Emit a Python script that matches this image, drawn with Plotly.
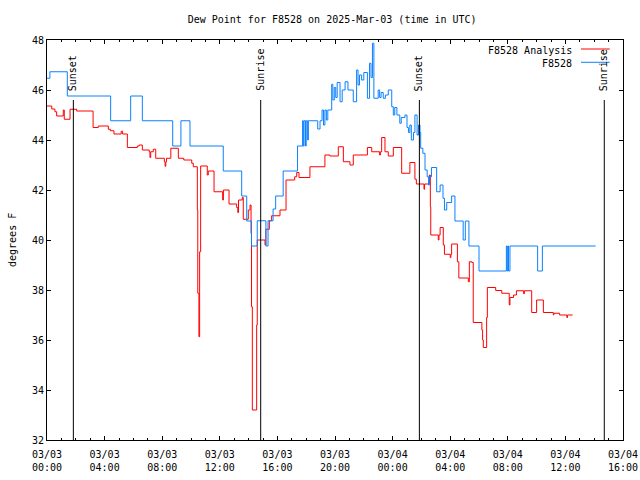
import pandas as pd
import plotly.graph_objects as go

BASE = pd.Timestamp("2025-03-03 00:00")

# F8528 (observed) dew point: hours since 2025-03-03 00:00 UTC, degrees F
obs_hours = [0.0, 0.2, 1.41, 4.42, 5.81, 6.62, 8.73, 9.3, 9.93, 12.24, 13.52, 13.87,
             14.2, 14.6, 15.2, 15.35, 15.7, 15.88, 16.4, 17.4, 17.75, 17.8, 17.85, 17.95,
             18.0, 18.1, 18.15, 18.8, 18.96, 19.1, 19.2, 19.3, 19.4, 19.5, 19.77, 19.85,
             19.95, 20.05, 20.15, 20.35, 20.5, 20.7, 20.9, 21.27, 21.5, 21.6, 21.7, 21.85,
             22.0, 22.25, 22.4, 22.5, 22.6, 22.7, 23.0, 23.1, 23.2, 23.35, 23.5, 23.7,
             23.94, 24.05, 24.15, 24.3, 24.5, 24.6, 24.86, 25.0, 25.1, 25.2, 25.3, 25.45,
             25.55, 25.7, 25.8, 25.9, 25.95, 26.1, 26.25, 26.4, 26.5, 26.55, 26.7, 27.06,
             27.3, 27.5, 27.6, 27.76, 28.1, 28.33, 28.9, 29.05, 29.3, 30.0, 31.9, 31.95,
             32.0, 32.05, 32.15, 34.07, 34.4, 38.1]
obs_values = [46.47, 46.73, 45.76, 44.77, 45.76, 44.77, 43.76, 44.77, 43.76, 42.76, 41.76, 40.76,
              39.76, 40.77, 39.76, 40.77, 41.24, 41.76, 42.76, 43.76, 44.77, 43.76, 44.77, 43.76,
              44.77, 44.0, 44.77, 44.44, 44.77, 45.2, 44.6, 45.2, 44.8, 45.2, 46.23, 45.6,
              46.1, 45.7, 46.3, 45.53, 46.0, 46.33, 46.0, 45.53, 46.8, 46.2, 46.6, 46.4,
              46.7, 45.67, 47.07, 46.5, 47.87, 45.67, 46.0, 45.7, 45.9, 45.67, 45.8, 46.0,
              45.33, 45.0, 45.3, 45.0, 44.67, 44.9, 45.0, 44.5, 44.3, 44.6, 44.0, 44.3,
              45.0, 44.2, 44.6, 44.3, 43.67, 43.47, 42.8, 42.53, 42.2, 42.53, 42.9, 41.93,
              42.2, 41.67, 41.2, 41.5, 41.76, 40.76, 40.0, 40.76, 39.76, 38.76, 39.76, 38.76,
              39.76, 38.76, 39.76, 38.76, 39.76, 39.76]

# F8528 Analysis dew point
ana_hours = [0.0, 0.33, 0.55, 0.67, 1.13, 1.2, 1.6, 2.06, 3.2, 3.56, 4.26, 4.4, 4.65,
             5.15, 5.25, 5.58, 6.27, 6.4, 6.62, 7.1, 7.15, 7.2, 7.38, 7.55, 8.15, 8.2,
             8.25, 8.3, 8.6, 9.12, 9.5, 10.05, 10.16, 10.44, 10.47, 10.55, 10.6, 10.67,
             11.13, 11.2, 11.6, 12.2, 12.25, 12.64, 13.17, 13.25, 13.3, 13.56, 13.63, 13.98,
             14.1, 14.17, 14.2, 14.26, 14.56, 14.6, 15.14, 15.2, 15.44, 15.6, 16.18, 16.6,
             17.2, 17.34, 17.5, 18.26, 19.3, 19.65, 20.23, 20.58, 21.04, 21.27, 22.25, 22.55,
             23.1, 23.15, 23.24, 23.47, 23.7, 24.05, 24.63, 25.2, 25.55, 25.65, 26.18, 26.22,
             26.55, 26.62, 26.65, 27.17, 27.22, 27.3, 27.52, 27.6, 28.0, 28.05, 28.1, 28.5,
             28.6, 29.26, 29.33, 29.5, 29.6, 30.2, 30.25, 30.3, 30.53, 30.58, 31.16, 31.58,
             32.1, 32.15, 32.4, 32.6, 33.1, 33.15, 33.66, 34.0, 34.47, 35.16, 35.2, 35.6,
             36.1, 36.15, 36.5]
ana_values = [45.36, 45.24, 45.13, 44.96, 45.2, 44.83, 45.23, 45.16, 44.5, 44.56, 44.43, 44.37, 44.24,
              44.35, 44.24, 43.7, 43.76, 43.8, 43.6, 43.53, 43.3, 43.53, 43.63, 43.27, 43.13, 42.95,
              43.13, 43.27, 43.67, 43.27, 43.2, 43.07, 42.93, 41.2, 37.87, 36.13, 39.53, 42.96,
              42.6, 42.76, 41.93, 41.6, 42.0, 41.44, 41.3, 41.1, 41.6, 41.7, 40.83, 41.2,
              41.4, 40.27, 37.33, 33.2, 36.6, 40.0, 39.8, 40.43, 40.77, 40.97, 41.2, 42.4,
              42.53, 42.7, 42.5, 42.93, 43.4, 43.36, 43.73, 43.13, 43.0, 43.4, 43.7, 43.53,
              43.4, 43.53, 44.1, 43.53, 43.36, 43.7, 42.67, 43.1, 42.43, 42.24, 42.03, 42.24,
              42.6, 41.33, 40.2, 40.0, 40.2, 40.5, 39.8, 39.43, 39.3, 39.43, 39.84, 39.13,
              38.48, 38.33, 39.13, 39.1, 36.7, 36.4, 36.0, 35.7, 36.9, 38.1, 37.98, 37.87,
              37.4, 37.7, 37.8, 37.97, 37.85, 37.97, 37.1, 37.6, 37.1, 37.0, 37.07, 37.0,
              36.9, 37.0, 37.0]

# Sun events (hours since base)
event_hours = [1.83, 14.84, 25.86, 38.7]
event_labels = ["Sunset", "Sunrise", "Sunset", "Sunrise"]

y_ticks = [32, 34, 36, 38, 40, 42, 44, 46, 48]

def to_time(hours):
    return [BASE + pd.Timedelta(hours=h) for h in hours]

FONT = "DejaVu Sans Mono"
FS = 10
RED = "#ff0000"
BLUE = "#0a80ff"
LW = 1.0

fig = go.Figure()
fig.add_trace(go.Scatter(x=to_time(ana_hours), y=ana_values, mode="lines",
                         line=dict(color=RED, width=LW, shape="hv"),
                         name="F8528 Analysis", showlegend=False))
fig.add_trace(go.Scatter(x=to_time(obs_hours), y=obs_values, mode="lines",
                         line=dict(color=BLUE, width=LW, shape="hv"),
                         name="F8528", showlegend=False))

for h, lab in zip(event_hours, event_labels):
    t = BASE + pd.Timedelta(hours=h)
    fig.add_shape(type="line", xref="x", yref="paper", x0=t, x1=t, y0=0, y1=0.85,
                  line=dict(color="black", width=1.0))
    fig.add_annotation(x=t, xref="x", y=0.8675, yref="paper", text=lab, textangle=-90,
                       showarrow=False, xanchor="center", yanchor="bottom",
                       font=dict(family=FONT, size=FS, color="black"))

# manual legend (gnuplot style: text right, sample line on right)
legend_items = [("F8528 Analysis", RED, 0.975), ("F8528", BLUE, 0.9418)]
for txt, col, yy in legend_items:
    fig.add_annotation(x=0.9149, xref="paper", y=yy, yref="paper", text=txt,
                       showarrow=False, xanchor="right", yanchor="middle",
                       font=dict(family=FONT, size=FS, color="black"))
    fig.add_shape(type="line", xref="paper", yref="paper", x0=0.927, x1=0.977,
                  y0=yy + 0.0025, y1=yy + 0.0025, line=dict(color=col, width=LW))

# y-axis title
fig.add_annotation(x=-0.0608, xref="paper", y=0.5, yref="paper", text="degrees F",
                   textangle=-90, showarrow=False, xanchor="center", yanchor="middle",
                   font=dict(family=FONT, size=FS, color="black"))

fig.update_layout(
    width=640, height=480,
    margin=dict(l=47, r=17, t=40, b=40, autoexpand=False),
    plot_bgcolor="white", paper_bgcolor="white",
    font=dict(family=FONT, size=FS, color="black"),
    title=dict(text="Dew Point for F8528 on 2025-Mar-03 (time in UTC)",
               x=0.519, xanchor="center", y=0.96, yanchor="middle",
               font=dict(family=FONT, size=FS, color="black")),
    showlegend=False,
)
fig.update_xaxes(
    type="date", automargin=False,
    range=[BASE, BASE + pd.Timedelta(hours=40)],
    tick0=BASE, dtick=4 * 3600000,
    tickformat="%m/%d<br>%H:%M",
    ticks="inside", ticklen=4, tickcolor="black", tickwidth=1,
    ticklabelstandoff=5,
    minor=dict(dtick=3600000, ticks="inside", ticklen=2, tickcolor="black"),
    showline=True, linecolor="black", linewidth=1, mirror="allticks",
    showgrid=False, zeroline=False,
    tickfont=dict(family=FONT, size=FS, color="black"),
)
fig.update_yaxes(
    automargin=False,
    range=[32, 48], tickvals=y_ticks,
    ticks="inside", ticklen=4, tickcolor="black", tickwidth=1,
    showline=True, linecolor="black", linewidth=1, mirror="allticks",
    showgrid=False, zeroline=False,
    tickfont=dict(family=FONT, size=FS, color="black"),
)

fig.write_html("out.html")
